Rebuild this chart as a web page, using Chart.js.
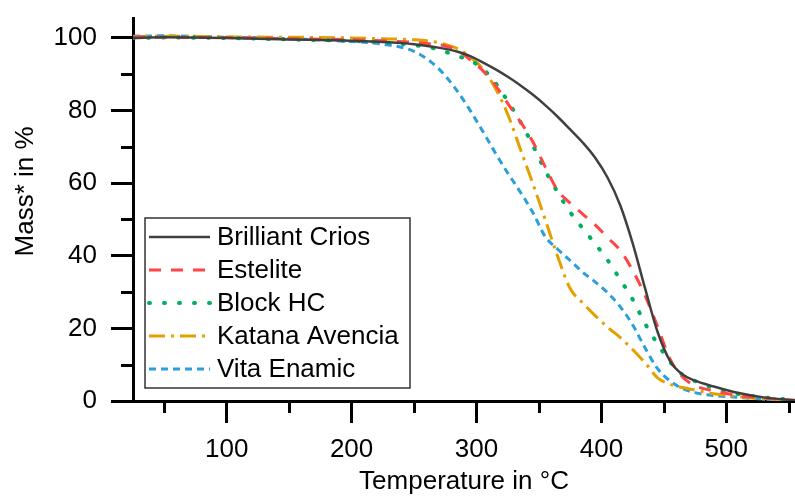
<!DOCTYPE html>
<html>
<head>
<meta charset="utf-8">
<script src="https://cdn.jsdelivr.net/npm/chart.js@4/dist/chart.umd.min.js"></script>
<style>
  html, body { margin: 0; padding: 0; background: #fff; }
  #wrap { width: 795px; height: 497px; }
</style>
</head>
<body>
<div id="wrap"><canvas id="tga_chart"></canvas></div>
<script>
/*
    TGA mass loss curves of five CAD/CAM materials.
*/

// temperature grid in °C (x-axis)
var temps = [25, 50, 100, 150, 200, 225, 250, 265, 275, 285, 295, 305, 315, 325, 335, 345, 355,
             365, 375, 385, 395, 405, 415, 425, 435, 445, 455, 465, 475, 490, 510, 530, 555];

// mass* in % for each material, one value per temperature above
var brilliantCrios = [100, 100.2, 100, 99.6, 99.2, 98.9, 98.3, 97.6, 97, 96.2, 95, 93.3, 91.4, 89.3, 87, 84.4, 81.5,
                      78.3, 74.8, 71.2, 67, 61.5, 54, 43.5, 31, 19, 11, 7.3, 5.6, 4, 2.2, 1, 0.2];
var estelite       = [100.3, 100.2, 100.1, 99.8, 99.5, 99.2, 98.8, 98.3, 97.8, 96.5, 94, 91, 87, 82, 77, 71.5, 64.5,
                      58, 54.5, 51.5, 48.5, 45, 41.5, 36, 29, 20.5, 11.5, 6.6, 4.2, 2.8, 1.5, 0.8, 0.2];
var blockHC        = [100, 100.1, 100, 99.6, 99.2, 98.8, 98, 97.2, 96.2, 95, 93.8, 91.5, 87.7, 82.6, 77, 70.5, 63.5,
                      57.5, 52, 47.6, 43.3, 38.8, 33.5, 28, 21.3, 15.7, 10.8, 7.2, 5.5, 3.6, 1.9, 1, 0.3];
var katanaAvencia  = [100.3, 100.5, 100.3, 100.2, 100, 99.8, 99.5, 99, 98.2, 97, 94.8, 91.5, 86.2, 79, 69.5, 60, 50,
                      39.8, 31, 27, 23.5, 20.3, 17.5, 14.2, 10.5, 6.4, 4.6, 3.7, 3, 2, 1.2, 0.5, 0.1];
var vitaEnamic     = [100.5, 100.6, 100.2, 99.8, 99, 98.3, 96.3, 93, 89.6, 85.2, 80, 74.3, 68.4, 62.8, 57.6, 52, 45.3,
                      41.8, 38.7, 35.5, 32.8, 29.8, 26, 21, 14.6, 8.9, 5.5, 3.4, 2.3, 1.5, 1, 0.5, 0.1];

var names = ['Brilliant Crios', 'Estelite', 'Block HC', 'Katana Avencia', 'Vita Enamic'];

// axis ticks
var xTicks = [50, 100, 150, 200, 250, 300, 350, 400, 450, 500, 550];
var yTicks = [0, 10, 20, 30, 40, 50, 60, 70, 80, 90, 100];


var FONT = "'Liberation Sans', Arial, sans-serif";
Chart.defaults.font.family = FONT;
Chart.defaults.font.size = 26;
Chart.defaults.color = '#000';

function points(series) {
    return temps.map(function(t, i) { return {x: t, y: series[i]}; });
}

function line(label, series, color, dash, width, cap) {
    return {
        label: label,
        data: points(series),
        borderColor: color,
        backgroundColor: color,
        borderWidth: width,
        borderDash: dash,
        borderCapStyle: cap || 'butt',
        pointRadius: 0,
        cubicInterpolationMode: 'monotone',
        fill: false,
    };
}

// minor ticks (short ones) on both axes
var minorTicks = {
    id: 'minorTicks',
    afterDraw: function(chart) {
        var c = chart.ctx, x = chart.scales.x, y = chart.scales.y;
        c.save();
        c.strokeStyle = '#000';
        c.lineWidth = 3;
        xTicks.forEach(function(v) {
            if (v % 100 === 0) return;
            var px = Math.round(x.getPixelForValue(v)) + 0.5;
            c.beginPath();
            c.moveTo(px, chart.chartArea.bottom);
            c.lineTo(px, chart.chartArea.bottom + 12);
            c.stroke();
        });
        yTicks.forEach(function(v) {
            if (v % 20 === 0) return;
            var py = Math.round(y.getPixelForValue(v)) + 0.5;
            c.beginPath();
            c.moveTo(chart.chartArea.left - 12, py);
            c.lineTo(chart.chartArea.left, py);
            c.stroke();
        });
        c.restore();
    }
};

// boxed legend in the lower left of the plot
var boxLegend = {
    id: 'boxLegend',
    afterDraw: function(chart) {
        var c = chart.ctx;
        var bx = 145, by = 218, bw = 265, bh = 170, row = 33;
        c.save();
        c.fillStyle = '#fff';
        c.fillRect(bx, by, bw, bh);
        c.strokeStyle = '#333';
        c.lineWidth = 1.5;
        c.strokeRect(bx, by, bw, bh);
        c.font = '26px ' + FONT;
        c.textBaseline = 'middle';
        chart.data.datasets.forEach(function(ds, i) {
            var ly = by + 19 + i * row;
            c.beginPath();
            c.strokeStyle = ds.borderColor;
            c.lineWidth = ds.borderWidth;
            c.lineCap = ds.borderCapStyle;
            c.setLineDash(ds.borderDash);
            c.moveTo(149, ly);
            c.lineTo(210, ly);
            c.stroke();
            c.setLineDash([]);
            c.fillStyle = '#000';
            c.fillText(ds.label, 217, ly + 1);
        });
        c.restore();
    }
};

var ctx = document.getElementById('tga_chart').getContext('2d');

var tga_chart = new Chart(ctx, {
    type: 'line',

    data: {
        datasets: [
            line(names[0], brilliantCrios, '#404040', [], 2.5),
            line(names[1], estelite, '#ff4545', [12, 10], 3),
            line(names[2], blockHC, '#00b060', [1, 14], 4, 'round'),
            line(names[3], katanaAvencia, '#e3a000', [16, 6, 3, 6], 3),
            line(names[4], vitaEnamic, '#2a9fdc', [7, 5], 3),
        ],
    },

    options: {
        responsive: true,
        maintainAspectRatio: false,
        animation: false,
        layout: { padding: { top: 18, right: 0, left: 0, bottom: 0 } },

        scales: {
            x: {
                type: 'linear',
                min: 25,
                max: 555,
                afterBuildTicks: function(s) { s.ticks = xTicks.map(function(v) { return {value: v}; }); },
                afterFit: function(s) { s.height = 96; s.paddingLeft = 0; s.paddingRight = 0; },
                ticks: {
                    autoSkip: false,
                    maxRotation: 0,
                    padding: 11,
                    callback: function(v) { return v % 100 === 0 ? v : ''; },
                },
                grid: {
                    drawOnChartArea: false,
                    tickLength: 22,
                    tickWidth: 3,
                    tickColor: function(c) { return c.tick && c.tick.value % 100 === 0 ? '#000' : 'rgba(0,0,0,0)'; },
                },
                border: { color: '#000', width: 3 },
                title: { display: true, text: 'Temperature in °C', padding: { top: 0, bottom: 0 } },
            },
            y: {
                min: 0,
                max: 105.5,
                afterBuildTicks: function(s) { s.ticks = yTicks.map(function(v) { return {value: v}; }); },
                afterFit: function(s) { s.width = 133; s.paddingTop = 0; s.paddingBottom = 0; },
                ticks: {
                    padding: 14,
                    callback: function(v) { return v % 20 === 0 ? v : ''; },
                },
                grid: {
                    drawOnChartArea: false,
                    tickLength: 22,
                    tickWidth: 3,
                    tickColor: function(c) { return c.tick && c.tick.value % 20 === 0 ? '#000' : 'rgba(0,0,0,0)'; },
                },
                border: { color: '#000', width: 3 },
                // leading spaces move the label a little up, as in the figure
                title: { display: true, text: '\u00a0\u00a0\u00a0\u00a0\u00a0Mass* in %', padding: { top: 10, bottom: 0 } },
            },
        },

        plugins: {
            legend: { display: false },
            tooltip: { enabled: false },
        },
    },
    plugins: [minorTicks, boxLegend],
});
</script>
</body>
</html>
